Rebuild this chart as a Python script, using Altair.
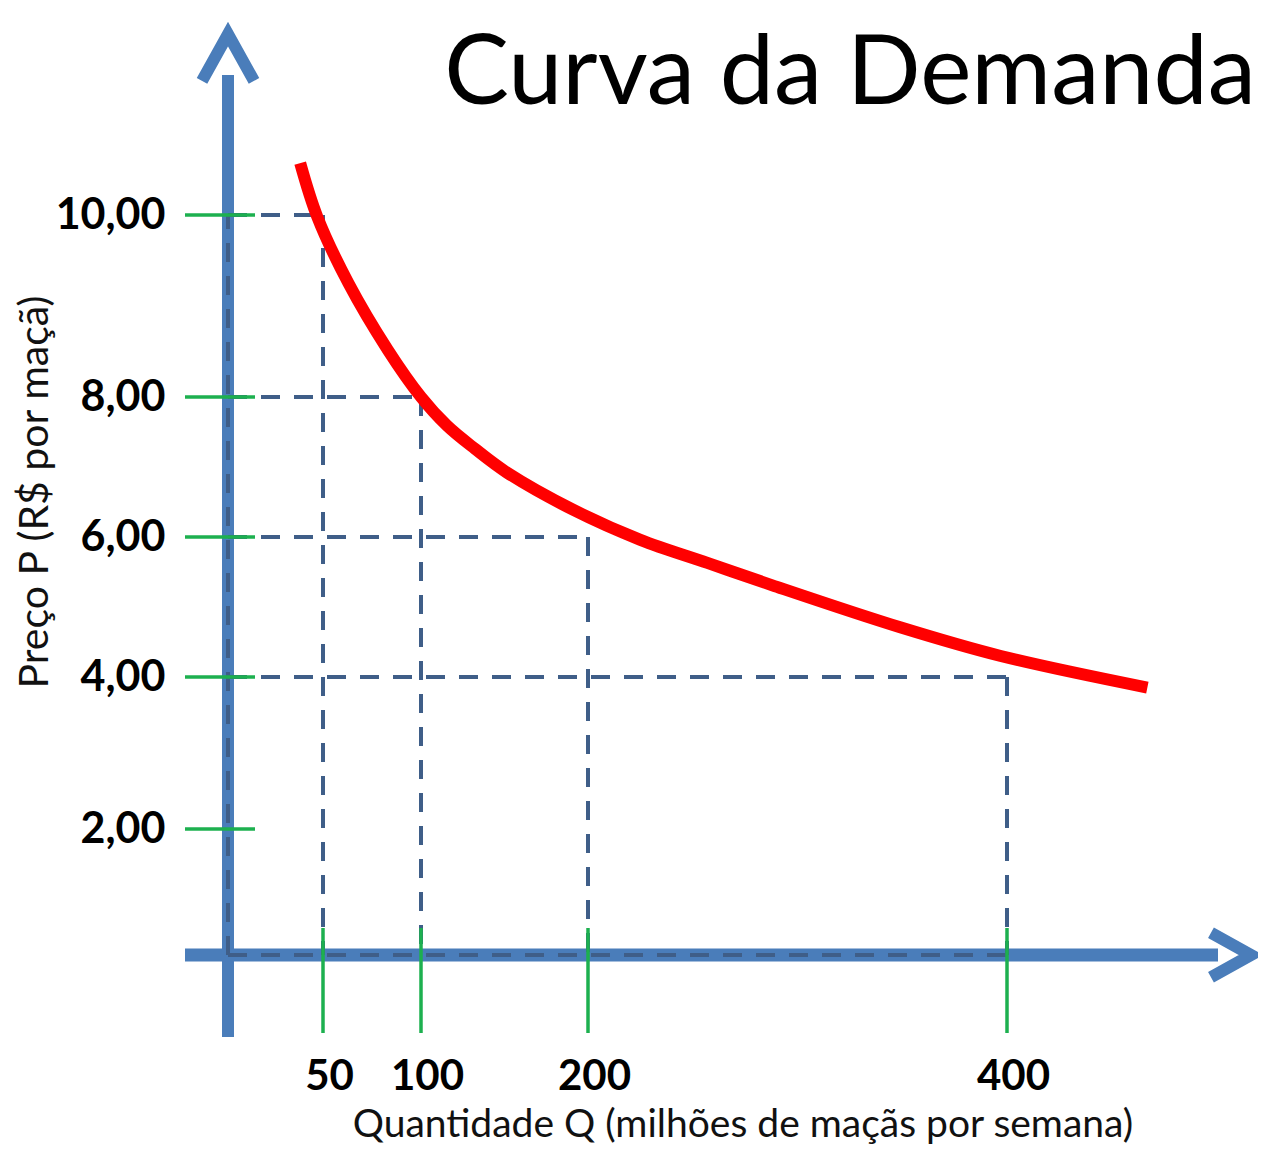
import altair as alt
import pandas as pd

# ---------------- data ----------------
TITLE = "Curva da Demanda"
X_TITLE = "Quantidade Q (milhões de maçãs por semana)"
Y_TITLE = "Preço P (R$ por maçã)"

# demand curve (quantity, price)
CURVE_Q = [38, 47, 63, 83, 100, 115.6, 132.3, 151.5, 191, 225, 257, 288, 349, 397, 467]
CURVE_P = [10.57, 9.98, 9.25, 8.52, 8.0, 7.59, 7.26, 6.92, 6.39, 5.96, 5.63, 5.31, 4.71, 4.30, 3.86]

# marked price/quantity pairs (dashed guides)
MARK_Q = [50, 100, 200, 400]
MARK_P = [10, 8, 6, 4]

# tick values
X_TICKS = [50, 100, 200, 400]
Y_TICKS = [2, 4, 6, 8, 10]

# the drawing is not to scale: breakpoints of the piecewise axes
X_BREAKS = [0, 50, 100, 200, 400]
Y_BREAKS = [0, 2, 4, 6, 8, 10]

# ---------------- styles ----------------
X_PX = [220, 315, 413, 580, 999]
Y_PX = [947, 821, 669, 529, 389, 207]
BLUE = "#4a7dba"
DASH = "#3f5e88"
GREEN = "#1db04f"
RED = "#ff0000"
FONT = "Lato"

xs = alt.Scale(domain=X_BREAKS, range=X_PX, zero=False, nice=False)
ys = alt.Scale(domain=Y_BREAKS, range=Y_PX, zero=False, nice=False)

x_axis = alt.Axis(values=X_TICKS, title=None, domain=False, ticks=False, grid=False,
                  labelFont=FONT, labelFontWeight="bold", labelFontSize=42,
                  labelColor="black", labelPadding=0, labelBaseline="alphabetic",
                  labelOffset=6, offset=-57, labelOverlap=False, labelFlush=False)
y_axis = alt.Axis(values=Y_TICKS, title=None, domain=False, ticks=False, grid=False,
                  labelExpr="replace(format(datum.value, '.2f'), '.', ',')",
                  labelFont=FONT, labelFontWeight="bold", labelFontSize=43,
                  labelColor="black", labelPadding=0, labelAlign="right",
                  labelBaseline="middle", offset=-157, labelOverlap=False, labelFlush=False)


def X(f):
    return alt.X(f, type="quantitative", scale=xs, axis=x_axis)


def Y(f):
    return alt.Y(f, type="quantitative", scale=ys, axis=y_axis)


curve_df = pd.DataFrame({"Q": CURVE_Q, "P": CURVE_P})
marks_df = pd.DataFrame({"Q": MARK_Q, "P": MARK_P, "Z": [0] * len(MARK_Q)})
origin_df = pd.DataFrame({"Z": [0], "Qmax": [max(MARK_Q)], "Pmax": [max(MARK_P)]})
xt_df = pd.DataFrame({"Q": X_TICKS})
yt_df = pd.DataFrame({"P": Y_TICKS})

# blue axis lines
y_line = alt.Chart(origin_df).mark_rule(color=BLUE, strokeWidth=12).encode(
    x=X("Z"), y=alt.value(67), y2=alt.value(1029))
x_line = alt.Chart(origin_df).mark_rule(color=BLUE, strokeWidth=13).encode(
    y=Y("Z"), x=alt.value(177), x2=alt.value(1210))

# arrow heads
up_arrow = alt.Chart(origin_df).mark_point(
    shape="M -1 0.9 L 0 -0.9 L 1 0.9", filled=False, color=BLUE, strokeWidth=12,
    size=2704, opacity=1, strokeJoin="miter").encode(x=X("Z"), y=alt.value(49.5))
right_arrow = alt.Chart(origin_df).mark_point(
    shape="M -0.9 -1 L 0.9 0 L -0.9 1", filled=False, color=BLUE, strokeWidth=12,
    size=1980, opacity=1, strokeJoin="miter").encode(x=alt.value(1223), y=Y("Z"))

# dashed guides
dash_kw = dict(color=DASH, strokeWidth=4, strokeDash=[19, 14])
h_dash = alt.Chart(marks_df).mark_rule(**dash_kw).encode(x=X("Z"), x2="Q", y=Y("P"))
v_dash = alt.Chart(marks_df).mark_rule(**dash_kw).encode(x=X("Q"), y=Y("P"), y2="Z")
ax_dash_x = alt.Chart(origin_df).mark_rule(**dash_kw).encode(x=X("Z"), x2="Qmax", y=Y("Z"))
ax_dash_y = alt.Chart(origin_df).mark_rule(**dash_kw).encode(x=X("Z"), y=Y("Z"), y2="Pmax")

# green ticks
x_ticks = alt.Chart(xt_df).mark_rule(color=GREEN, strokeWidth=3.5).encode(
    x=X("Q"), y=alt.value(920), y2=alt.value(1025))
y_ticks = alt.Chart(yt_df).mark_rule(color=GREEN, strokeWidth=3.5).encode(
    y=Y("P"), x=alt.value(177), x2=alt.value(247))

# demand curve
curve = alt.Chart(curve_df).mark_line(color=RED, strokeWidth=12, interpolate="catmull-rom",
                                      strokeCap="butt").encode(x=X("Q"), y=Y("P"))

# texts
title = alt.Chart(pd.DataFrame({"t": [TITLE]})).mark_text(
    font=FONT, fontSize=97, align="right", baseline="alphabetic", color="black").encode(
    text="t:N", x=alt.value(1248), y=alt.value(96))
x_title = alt.Chart(pd.DataFrame({"t": [X_TITLE]})).mark_text(
    font=FONT, fontSize=39, align="center", baseline="alphabetic", color="#111111").encode(
    text="t:N", x=alt.value(735), y=alt.value(1129))
y_title = alt.Chart(pd.DataFrame({"t": [Y_TITLE]})).mark_text(
    font=FONT, fontSize=41, align="center", baseline="alphabetic", angle=270,
    color="#111111").encode(text="t:N", x=alt.value(40), y=alt.value(484))

chart = alt.layer(
    y_line, x_line, up_arrow, right_arrow,
    h_dash, v_dash, ax_dash_x, ax_dash_y,
    x_ticks, y_ticks, curve, title, x_title, y_title
).properties(width=1250, height=1138, padding=0, autosize="none",
             background="white").configure_view(stroke=None)

chart.save("out.html", embed_options={"renderer": "svg", "actions": False})
